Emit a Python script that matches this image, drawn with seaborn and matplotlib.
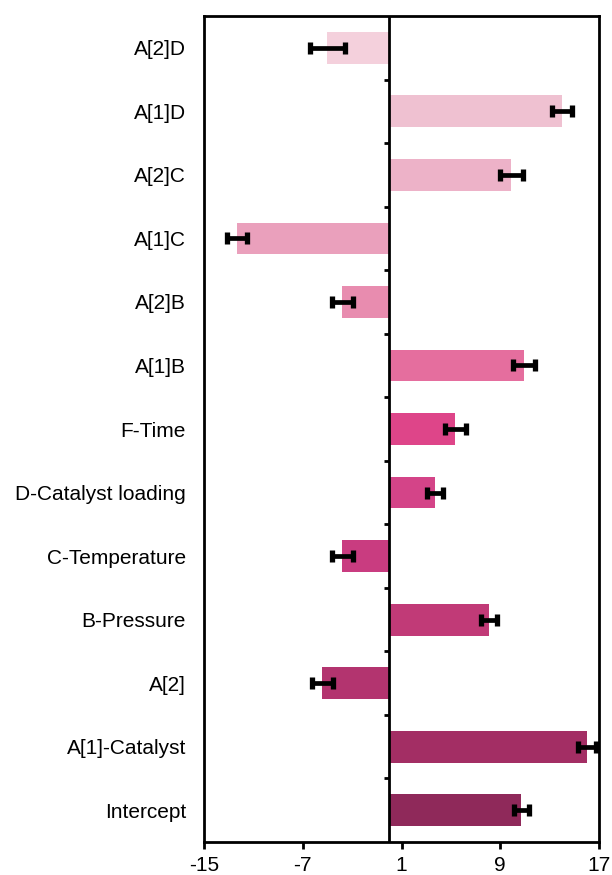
import matplotlib
matplotlib.use("Agg")
import matplotlib.pyplot as plt
import seaborn as sns
import numpy as np

# Model terms, listed from top to bottom of the chart
terms = ["A[2]D", "A[1]D", "A[2]C", "A[1]C", "A[2]B", "A[1]B", "F-Time",
         "D-Catalyst loading", "C-Temperature", "B-Pressure", "A[2]",
         "A[1]-Catalyst", "Intercept"]
coefficients = [-5.0, 14.0, 9.9, -12.35, -3.8, 10.95, 5.35,
                3.7, -3.8, 8.1, -5.4, 16.0, 10.7]
std_errors = [1.45, 0.8, 0.92, 0.8, 0.85, 0.88, 0.84,
              0.66, 0.86, 0.62, 0.86, 0.72, 0.6]
bar_colors = ["#F4D0DC", "#EFC1D1", "#EDB2C8", "#EAA0BC", "#E88CAF", "#E56E9E",
              "#DE4589", "#D44488", "#C93C80", "#C13A77", "#B3346F",
              "#A32E64", "#8F295A"]
x_ticks = [-15, -7, 1, 9, 17]

sns.set_theme(style="white")
plt.rcParams["font.family"] = ["Liberation Sans", "DejaVu Sans"]

fig = plt.figure(figsize=(6.12, 8.75), dpi=100)
ax = fig.add_axes([0.3333, 0.0377, 0.6455, 0.944])

sns.barplot(x=coefficients, y=terms, hue=terms, order=terms, hue_order=terms,
            palette=bar_colors, saturation=1, legend=False, width=0.5,
            linewidth=0, orient="h", ax=ax)

ypos = np.arange(len(terms))
ax.errorbar(coefficients, ypos, xerr=std_errors, fmt="none", ecolor="black",
            elinewidth=3.4, capsize=4.6, capthick=3.8, zorder=4)

# zero reference line with short ticks between the terms
ax.axvline(0, color="black", lw=2.0, zorder=5)
ax.hlines(ypos[:-1] + 0.5, -0.45, 0, color="black", lw=2.0, zorder=5)

ax.set_xlim(-15, 17)
ax.set_ylim(len(terms) - 0.5, -0.5)
ax.set_xticks(x_ticks)
ax.set_xticklabels([str(t) for t in x_ticks])
ax.set_xlabel("")
ax.set_ylabel("")

for sp in ax.spines.values():
    sp.set_visible(True)
    sp.set_color("black")
    sp.set_linewidth(2.0)

ax.tick_params(axis="x", which="both", bottom=True, length=5, width=2.0,
               pad=5, labelsize=15, colors="black")
ax.tick_params(axis="y", which="both", left=False, length=0, pad=13,
               labelsize=15, colors="black")
for lab in ax.get_xticklabels() + ax.get_yticklabels():
    lab.set_color("black")

fig.savefig("out.png", dpi=100, facecolor="white")
